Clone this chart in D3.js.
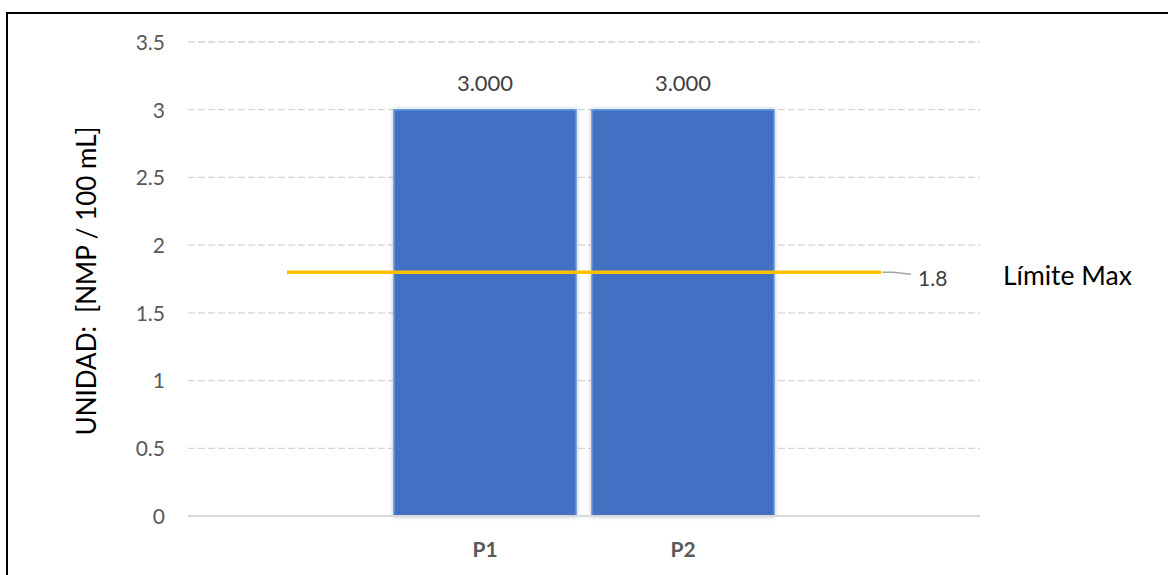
<!DOCTYPE html>
<html><head><meta charset="utf-8">
<script src="https://cdn.jsdelivr.net/npm/d3@7"></script>
<style>html,body{margin:0;padding:0;background:#fff;}svg{display:block;font-family:Lato,"Open Sans",sans-serif;}</style>
</head><body>
<svg id="c" width="1168" height="575"></svg>
<script>
const categories = ["", "P1", "P2", ""];
const barValues = [null, 3.0, 3.0, null];
const limitValues = [1.8, 1.8, 1.8, 1.8];
const yTicks = [0, 0.5, 1, 1.5, 2, 2.5, 3, 3.5];
const yTitle = "UNIDAD:  [NMP / 100 mL]";
const limitName = "Límite Max";

const svg = d3.select("#c");
const m = {l:188, r:980, t:42, b:516};
const FF = "Lato,'Open Sans',sans-serif";

const defs = svg.append("defs");
const f = defs.append("filter").attr("id","sh").attr("x","-10%").attr("y","-10%").attr("width","120%").attr("height","120%");
f.append("feDropShadow").attr("dx",0).attr("dy",0).attr("stdDeviation",2).attr("flood-color","#000").attr("flood-opacity",0.25);

// frame
svg.append("rect").attr("x",7).attr("y",13).attr("width",1180).attr("height",600)
  .attr("fill","none").attr("stroke","#000").attr("stroke-width",2);

const x = d3.scaleBand().domain(d3.range(categories.length)).range([m.l, m.r]).paddingInner(0.08).paddingOuter(0.04);
const y = d3.scaleLinear().domain([0, 3.5]).range([m.b, m.t]);

// gridlines
svg.append("g").selectAll("line").data(yTicks.filter(d=>d>0)).join("line")
  .attr("x1",m.l).attr("x2",m.r).attr("y1",d=>y(d)).attr("y2",d=>y(d))
  .attr("stroke","#d6d6d6").attr("stroke-width",1.3).attr("stroke-dasharray","7,3");

// y axis labels
const yAxis = d3.axisLeft(y).tickValues(yTicks).tickSize(0).tickPadding(0).tickFormat(d=>String(d));
const ga = svg.append("g").attr("transform",`translate(${165},0)`).call(yAxis);
ga.select(".domain").remove();
ga.selectAll("text").attr("font-size",21).attr("fill","#595959").attr("font-family",FF).attr("dy","0.35em");

// bars
const bd = categories.map((c,i)=>({c,i,v:barValues[i]})).filter(d=>d.v!=null);
svg.append("g").selectAll("rect").data(bd).join("rect")
  .attr("x",d=>x(d.i)).attr("width",x.bandwidth())
  .attr("y",d=>y(d.v)).attr("height",d=>y(0)-y(d.v))
  .attr("fill","#4270C2").attr("stroke","#6b9fdc").attr("stroke-width",1.5).attr("filter","url(#sh)");

// baseline
svg.append("line").attr("x1",m.l).attr("x2",m.r).attr("y1",y(0)).attr("y2",y(0))
  .attr("stroke","#d9d9d9").attr("stroke-width",2);

// bar labels
svg.append("g").selectAll("text").data(bd).join("text")
  .attr("x",d=>x(d.i)+x.bandwidth()/2).attr("y",d=>y(d.v)-26).attr("dy","0.35em")
  .attr("text-anchor","middle").attr("font-size",22).attr("fill","#404040")
  .text(d=>d3.format(".3f")(d.v));

// category labels
const xAxis = d3.axisBottom(x).tickSize(0).tickPadding(0).tickFormat(i=>categories[i]);
const gx = svg.append("g").attr("transform",`translate(0,${y(0)})`).call(xAxis);
gx.select(".domain").remove();
gx.selectAll("text").attr("y",34).attr("dy","0.35em").attr("font-size",21).attr("font-weight","bold")
  .attr("fill","#595959").attr("font-family",FF);

// limit line
const line = d3.line().x((d,i)=>x(i)+x.bandwidth()/2).y(d=>y(d));
svg.append("path").datum(limitValues).attr("d",line).attr("fill","none")
  .attr("stroke","#FFC000").attr("stroke-width",3.5);

// leader + label
const lastI = limitValues.length-1;
const lx = x(lastI)+x.bandwidth()/2, ly = y(limitValues[lastI]);
svg.append("path").attr("d",`M${lx+1},${ly} L${lx+12},${ly} L${lx+30},${ly+2}`)
  .attr("fill","none").attr("stroke","#a6a6a6").attr("stroke-width",1.5);
svg.append("text").attr("x",lx+37).attr("y",ly+6).attr("dy","0.35em").attr("font-size",21).attr("fill","#404040")
  .text(d3.format(".1f")(limitValues[lastI]));

// legend-like name
svg.append("text").attr("x",1003).attr("y",ly+3).attr("dy","0.35em").attr("font-size",26.5).attr("fill","#000")
  .text(limitName);

// y title
svg.append("text").attr("transform",`translate(96,${281}) rotate(-90)`).attr("text-anchor","middle")
  .attr("font-size",26).attr("fill","#000").style("white-space","pre").text(yTitle);
</script>
</body></html>
